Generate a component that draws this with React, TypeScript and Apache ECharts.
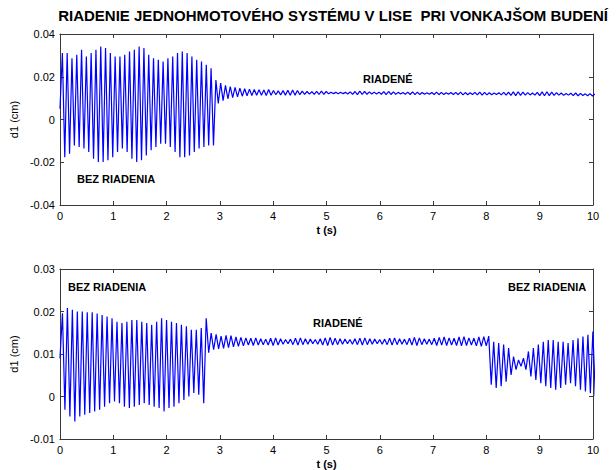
import { useEffect, useRef } from "react";
import * as echarts from "echarts";

const TITLE = "RIADENIE JEDNOHMOTOVÉHO SYSTÉMU V LISE  PRI VONKAJŠOM BUDENÍ";
const X_NAME = "t (s)";
const Y_NAME = "d1 (cm)";
const LABEL_FREE = "BEZ RIADENIA";
const LABEL_CTRL = "RIADENÉ";

const X_RANGE = [0, 10];
const X_STEP = 1;
const TOP_Y_RANGE = [-0.04, 0.04];
const TOP_Y_STEP = 0.02;
const BOT_Y_RANGE = [-0.01, 0.03];
const BOT_Y_STEP = 0.01;

// sampling: successive extrema (half oscillation period apart)
const TOP_DT = 0.045;
const BOT_DT = 0.0465;

// top plot: uncontrolled 0 - 2.9 s
const TOP_FREE = [
  0.005,
  0.0311, -0.0176, 0.0311, -0.016, 0.0287, -0.0121, 0.0303, -0.0129, 0.0326, -0.0136,
  0.0295, -0.0152, 0.0311, -0.0184, 0.0326, -0.0199, 0.0342, -0.0199, 0.0334, -0.0191,
  0.0311, -0.0176, 0.0295, -0.0152, 0.0295, -0.0136, 0.0303, -0.0152, 0.0318, -0.0184,
  0.0326, -0.0199, 0.0342, -0.0191, 0.0334, -0.0168, 0.0303, -0.0144, 0.0287, -0.0129,
  0.0279, -0.0113, 0.0271, -0.0113, 0.0287, -0.0129, 0.0295, -0.0152, 0.0311, -0.0176,
  0.0318, -0.0176, 0.0311, -0.0168, 0.0295, -0.0152, 0.0279, -0.0136, 0.0271, -0.0129,
  0.0256, -0.0121, 0.024,
];
// top plot: controlled 2.9 - 10 s
const TOP_CTRL = [
  -0.0121, 0.0185,
  0.0075, 0.017, 0.0088, 0.016, 0.0097, 0.0154, 0.0102, 0.015, 0.0106, 0.0147, 0.0109,
  0.0144, 0.0111, 0.0142, 0.0112, 0.014, 0.0113, 0.0139, 0.0114, 0.0138, 0.0112, 0.014,
  0.0113, 0.0136, 0.0116, 0.0134, 0.0115, 0.0135, 0.0114, 0.0137, 0.0113, 0.0138, 0.0114,
  0.0136, 0.0116, 0.0133, 0.0118, 0.0131, 0.0119, 0.013, 0.0118, 0.0132, 0.0117, 0.0133,
  0.0118, 0.0131, 0.012, 0.0128, 0.0121, 0.0127, 0.012, 0.0128, 0.0121, 0.0127, 0.0119,
  0.0129, 0.0118, 0.0131, 0.0116, 0.0133, 0.0117, 0.0131, 0.0118, 0.0129, 0.0119, 0.0128,
  0.0119, 0.0128, 0.0118, 0.013, 0.0116, 0.0131, 0.0117, 0.0129, 0.0118, 0.0127, 0.0119,
  0.0126, 0.0118, 0.0128, 0.0117, 0.0129, 0.0116, 0.0128, 0.0117, 0.0126, 0.0118, 0.0125,
  0.0118, 0.0126, 0.0117, 0.0128, 0.0116, 0.0127, 0.0117, 0.0125, 0.0118, 0.0126, 0.0117,
  0.0127, 0.0116, 0.0128, 0.0115, 0.0126, 0.0116, 0.0125, 0.0117, 0.0127, 0.0115, 0.0128,
  0.0114, 0.0127, 0.0115, 0.0125, 0.0116, 0.0124, 0.0117, 0.0125, 0.0115, 0.0127, 0.0114,
  0.0128, 0.0113, 0.0129, 0.0112, 0.013, 0.0113, 0.0128, 0.0114, 0.0126, 0.0115, 0.0124,
  0.0114, 0.0127, 0.0112, 0.0129, 0.0111, 0.013, 0.0112, 0.0128, 0.0113, 0.0126, 0.0114,
  0.0124, 0.0113, 0.0122, 0.0114, 0.0123, 0.0112, 0.0124, 0.0111, 0.0122, 0.0112, 0.012, 0.0111,
  0.0121, 0.011, 0.0119,
];

// bottom plot: uncontrolled 0 - 2.75 s
const BOT_FREE = [
  0.009,
  0.0196, -0.0031, 0.0208, -0.0047, 0.0204, -0.0059, 0.02, -0.0047, 0.02, -0.0043,
  0.0198, -0.0039, 0.0198, -0.0035, 0.0195, -0.0031, 0.0192, -0.0024, 0.0188, -0.0016,
  0.0184, -0.0012, 0.0176, -0.0016, 0.0173, -0.0024, 0.0176, -0.0027, 0.018, -0.0024,
  0.018, -0.002, 0.0176, -0.0016, 0.0173, -0.002, 0.0169, -0.0024, 0.0176, -0.0027,
  0.0184, -0.0035, 0.018, -0.0027, 0.0176, -0.0024, 0.0173, -0.0016, 0.0169, -0.0008,
  0.0165, 0.0, 0.0157, 0.0008, 0.0157, 0.0004, 0.0161, -0.0016, 0.0184,
];
// bottom plot: controlled 2.75 - 8 s
const BOT_CTRL = [
  0.0103, 0.0149, 0.011, 0.0146, 0.0112, 0.0142, 0.0113, 0.0144, 0.0115, 0.0143, 0.0117,
  0.014, 0.0118, 0.0139, 0.0119, 0.0138, 0.0121, 0.0137, 0.012, 0.0138, 0.0121, 0.0136,
  0.0122, 0.0135, 0.0121, 0.0137, 0.012, 0.0138, 0.0121, 0.0136, 0.0123, 0.0134, 0.0124,
  0.0135, 0.0122, 0.0137, 0.0121, 0.0138, 0.0122, 0.0136, 0.0123, 0.0135, 0.0124, 0.0134,
  0.0123, 0.0136, 0.0121, 0.0138, 0.012, 0.0139, 0.0121, 0.0137, 0.0122, 0.0136, 0.0123,
  0.0135, 0.0124, 0.0134, 0.0123, 0.0136, 0.0122, 0.0137, 0.0121, 0.0138, 0.0122, 0.0136,
  0.0123, 0.0135, 0.0124, 0.0134, 0.0123, 0.0135, 0.0122, 0.0137, 0.0121, 0.0138, 0.0122,
  0.0136, 0.0123, 0.0135, 0.0122, 0.0137, 0.0121, 0.0139, 0.012, 0.0138, 0.0122, 0.0136,
  0.0123, 0.0135, 0.0122, 0.0137, 0.012, 0.0139, 0.0121, 0.014, 0.012, 0.0138, 0.0121,
  0.0137, 0.012, 0.014, 0.0119, 0.0141, 0.012, 0.0138, 0.0121, 0.0137, 0.0119, 0.014,
  0.0118, 0.0141, 0.0119, 0.0142,
];
// bottom plot: control switched off 8 - 10 s
const BOT_FREE2 = [
  0.0028, 0.0129, 0.002, 0.0126, 0.0024, 0.0122, 0.0035, 0.0114, 0.0051, 0.0094, 0.0063,
  0.0086, 0.0071, 0.009, 0.0063, 0.0106, 0.0047, 0.0114, 0.0039, 0.0122, 0.0031, 0.0129,
  0.0024, 0.0133, 0.002, 0.0133, 0.0016, 0.0129, 0.002, 0.0129, 0.0028, 0.0126, 0.0031,
  0.0133, 0.0024, 0.0137, 0.0016, 0.0141, 0.0012, 0.0145, 0.0008, 0.0153, 0.0,
];

const FONT = "Liberation Sans, Arial, Helvetica, sans-serif";
const AXIS_COLOR = "#3a3a3a";
const LINE_COLOR = "#0000ff";

function toPairs(values: number[], dt: number): number[][] {
  return values.map((v, i) => [i * dt, v]);
}

function xAxis(grid: number, pos: "bottom" | "top", labeled: boolean) {
  return {
    type: "value",
    gridIndex: grid,
    position: pos,
    min: X_RANGE[0],
    max: X_RANGE[1],
    interval: X_STEP,
    axisLine: { show: true, onZero: false, lineStyle: { color: AXIS_COLOR, width: 1 } },
    axisTick: { show: true, inside: true, length: 4, lineStyle: { color: AXIS_COLOR } },
    splitLine: { show: false },
    axisLabel: labeled
      ? { show: true, margin: 5, color: "#000", fontSize: 11, fontFamily: FONT }
      : { show: false },
    name: labeled ? X_NAME : "",
    nameLocation: "middle",
    nameGap: 19,
    nameTextStyle: { color: "#000", fontSize: 11, fontWeight: "bold", fontFamily: FONT },
  };
}

function yAxis(grid: number, pos: "left" | "right", range: number[], step: number, labeled: boolean) {
  return {
    type: "value",
    gridIndex: grid,
    position: pos,
    min: range[0],
    max: range[1],
    interval: step,
    axisLine: { show: true, onZero: false, lineStyle: { color: AXIS_COLOR, width: 1 } },
    axisTick: { show: true, inside: true, length: 4, lineStyle: { color: AXIS_COLOR } },
    splitLine: { show: false },
    axisLabel: labeled
      ? { show: true, margin: 5, color: "#000", fontSize: 11, fontFamily: FONT }
      : { show: false },
    name: labeled ? Y_NAME : "",
    nameLocation: "middle",
    nameGap: 28,
    nameRotate: 90,
    nameTextStyle: { color: "#000", fontSize: 11, fontFamily: FONT },
  };
}

function note(text: string, x: number, y: number, size = 11, align = "left") {
  return {
    type: "text",
    x,
    y,
    silent: true,
    style: {
      text,
      fill: "#000",
      fontSize: size,
      fontWeight: "bold",
      fontFamily: FONT,
      verticalAlign: "middle",
      align,
    },
  };
}

export default function App() {
  const ref = useRef<HTMLDivElement>(null);

  useEffect(() => {
    if (!ref.current) return;
    const chart = echarts.init(ref.current, undefined, { renderer: "svg" });
    const topData = toPairs([...TOP_FREE, ...TOP_CTRL], TOP_DT);
    const botData = toPairs([...BOT_FREE, ...BOT_CTRL, ...BOT_FREE2], BOT_DT);

    chart.setOption({
      animation: false,
      backgroundColor: "#fff",
      grid: [
        { left: 59, top: 34, width: 534, height: 171, containLabel: false },
        { left: 59, top: 269, width: 534, height: 170, containLabel: false },
      ],
      xAxis: [
        xAxis(0, "bottom", true),
        xAxis(0, "top", false),
        xAxis(1, "bottom", true),
        xAxis(1, "top", false),
      ],
      yAxis: [
        yAxis(0, "left", TOP_Y_RANGE, TOP_Y_STEP, true),
        yAxis(0, "right", TOP_Y_RANGE, TOP_Y_STEP, false),
        yAxis(1, "left", BOT_Y_RANGE, BOT_Y_STEP, true),
        yAxis(1, "right", BOT_Y_RANGE, BOT_Y_STEP, false),
      ],
      series: [
        {
          type: "line",
          xAxisIndex: 0,
          yAxisIndex: 0,
          data: topData,
          showSymbol: false,
          symbol: "none",
          clip: true,
          lineStyle: { color: LINE_COLOR, width: 1.2 },
        },
        {
          type: "line",
          xAxisIndex: 2,
          yAxisIndex: 2,
          data: botData,
          showSymbol: false,
          symbol: "none",
          clip: true,
          lineStyle: { color: LINE_COLOR, width: 1.2 },
        },
      ],
      graphic: [
        note(TITLE, 608, 15, 15, "right"),
        note(LABEL_FREE, 77, 179),
        note(LABEL_CTRL, 363, 79),
        note(LABEL_FREE, 68, 287),
        note(LABEL_CTRL, 313, 323),
        note(LABEL_FREE, 508, 287),
      ],
    });
    return () => chart.dispose();
  }, []);

  return (
    <div
      ref={ref}
      style={{ position: "fixed", left: 0, top: 0, width: 616, height: 470, background: "#fff" }}
    />
  );
}
